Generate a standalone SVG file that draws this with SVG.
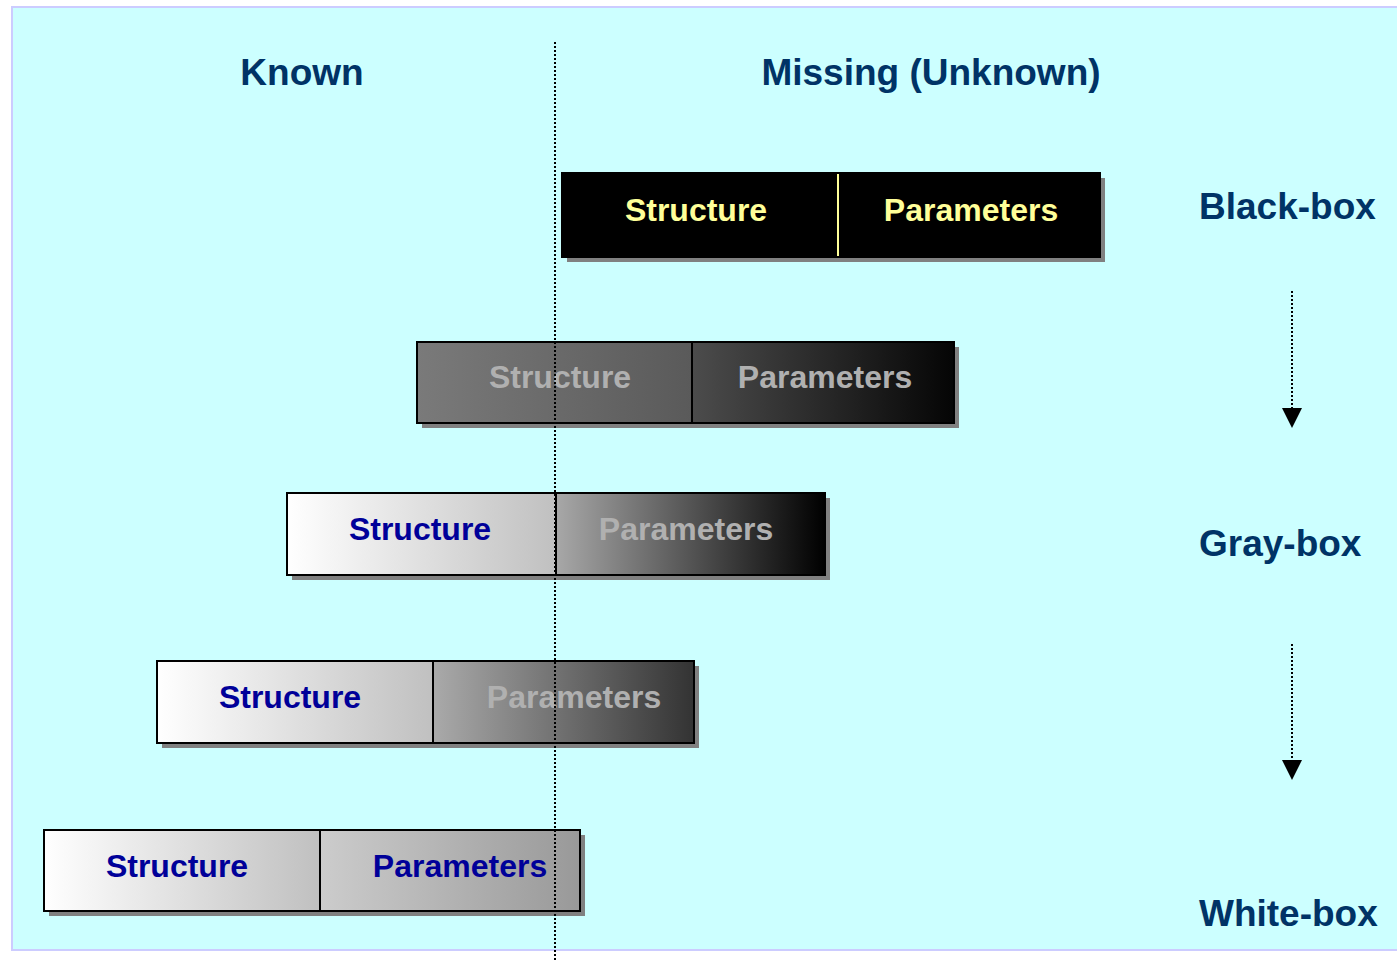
<svg xmlns="http://www.w3.org/2000/svg" width="1397" height="962" viewBox="0 0 1397 962">
  <defs>
    <style>
      .hd { font-family: "Liberation Sans", Arial, sans-serif; font-weight: bold; font-size: 37px; fill: #003366; }
      .bx { font-family: "Liberation Sans", Arial, sans-serif; font-weight: bold; font-size: 32px; text-anchor: middle; }
      .shadow { fill: #808080; }
      .frame { stroke: #000; stroke-width: 2; }
      .guide { stroke: #000; stroke-width: 2; stroke-dasharray: 2 2; fill: none; }
    </style>
    <linearGradient id="gStructGray" x1="0" x2="1" y1="0" y2="0">
      <stop offset="0" stop-color="#7a7a7a"/>
      <stop offset="1" stop-color="#5a5a5a"/>
    </linearGradient>
    <linearGradient id="gParamDark" x1="0" x2="1" y1="0" y2="0">
      <stop offset="0" stop-color="#4c4c4c"/>
      <stop offset="1" stop-color="#050505"/>
    </linearGradient>
    <linearGradient id="gLight" x1="0" x2="1" y1="0" y2="0">
      <stop offset="0" stop-color="#ffffff"/>
      <stop offset="1" stop-color="#c0c0c0"/>
    </linearGradient>
    <linearGradient id="gParamMid" x1="0" x2="1" y1="0" y2="0">
      <stop offset="0" stop-color="#a8a8a8"/>
      <stop offset="1" stop-color="#000000"/>
    </linearGradient>
    <linearGradient id="gParamSoft" x1="0" x2="1" y1="0" y2="0">
      <stop offset="0" stop-color="#aaaaaa"/>
      <stop offset="1" stop-color="#333333"/>
    </linearGradient>
    <linearGradient id="gParamLight" x1="0" x2="1" y1="0" y2="0">
      <stop offset="0" stop-color="#cccccc"/>
      <stop offset="1" stop-color="#999999"/>
    </linearGradient>
    <marker id="arrowHead" viewBox="0 0 20 20" refX="0" refY="10" markerWidth="20" markerHeight="20" markerUnits="userSpaceOnUse" orient="auto">
      <path d="M0,0 L20,10 L0,20 Z" fill="#000"/>
    </marker>
  </defs>

  <!-- backdrop panel -->
  <rect x="12" y="7" width="1390" height="943" fill="#ccffff" stroke="#ccccff" stroke-width="2"/>

  <!-- column headings -->
  <text class="hd" x="302" y="85" text-anchor="middle">Known</text>
  <text class="hd" x="931" y="85" text-anchor="middle">Missing (Unknown)</text>

  <!-- row labels -->
  <text class="hd" x="1199" y="219">Black-box</text>
  <text class="hd" x="1199" y="556">Gray-box</text>
  <text class="hd" x="1199" y="926">White-box</text>

  <!-- black box: nothing known -->
  <g id="row-black">
    <rect class="shadow" x="567" y="178" width="538" height="84"/>
    <rect x="562" y="173" width="538" height="84" fill="#000" class="frame"/>
    <line x1="838" y1="174" x2="838" y2="256" stroke="#ffff99" stroke-width="2"/>
    <text class="bx" x="696" y="221" fill="#ffff99">Structure</text>
    <text class="bx" x="971" y="221" fill="#ffff99">Parameters</text>
  </g>

  <!-- dark gray box -->
  <g id="row-darkgray">
    <rect class="shadow" x="422" y="347" width="537" height="81"/>
    <rect x="417" y="342" width="275" height="81" fill="url(#gStructGray)" class="frame"/>
    <rect x="692" y="342" width="262" height="81" fill="url(#gParamDark)" class="frame"/>
    <text class="bx" x="560" y="388" fill="#b0b0b0">Structure</text>
    <text class="bx" x="825" y="388" fill="#b0b0b0">Parameters</text>
  </g>

  <!-- gray box: structure known -->
  <g id="row-gray">
    <rect class="shadow" x="292" y="498" width="538" height="82"/>
    <rect x="287" y="493" width="269" height="82" fill="url(#gLight)" class="frame"/>
    <rect x="556" y="493" width="269" height="82" fill="url(#gParamMid)" class="frame"/>
    <text class="bx" x="420" y="540" fill="#000099">Structure</text>
    <text class="bx" x="686" y="540" fill="#b0b0b0">Parameters</text>
  </g>

  <!-- light gray box -->
  <g id="row-lightgray">
    <rect class="shadow" x="162" y="666" width="537" height="82"/>
    <rect x="157" y="661" width="276" height="82" fill="url(#gLight)" class="frame"/>
    <rect x="433" y="661" width="261" height="82" fill="url(#gParamSoft)" class="frame"/>
    <text class="bx" x="290" y="708" fill="#000099">Structure</text>
    <text class="bx" x="574" y="708" fill="#b0b0b0">Parameters</text>
  </g>

  <!-- white box: everything known -->
  <g id="row-white">
    <rect class="shadow" x="49" y="835" width="536" height="81"/>
    <rect x="44" y="830" width="276" height="81" fill="url(#gLight)" class="frame"/>
    <rect x="320" y="830" width="260" height="81" fill="url(#gParamLight)" class="frame"/>
    <text class="bx" x="177" y="877" fill="#000099">Structure</text>
    <text class="bx" x="460" y="877" fill="#000099">Parameters</text>
  </g>

  <!-- connectors: known/unknown divider and progression arrows -->
  <g id="connectors">
    <line class="guide" x1="555" y1="42" x2="555" y2="962"/>
    <line class="guide" x1="1292" y1="291" x2="1292" y2="408" marker-end="url(#arrowHead)"/>
    <line class="guide" x1="1292" y1="644" x2="1292" y2="760" marker-end="url(#arrowHead)"/>
  </g>
</svg>
